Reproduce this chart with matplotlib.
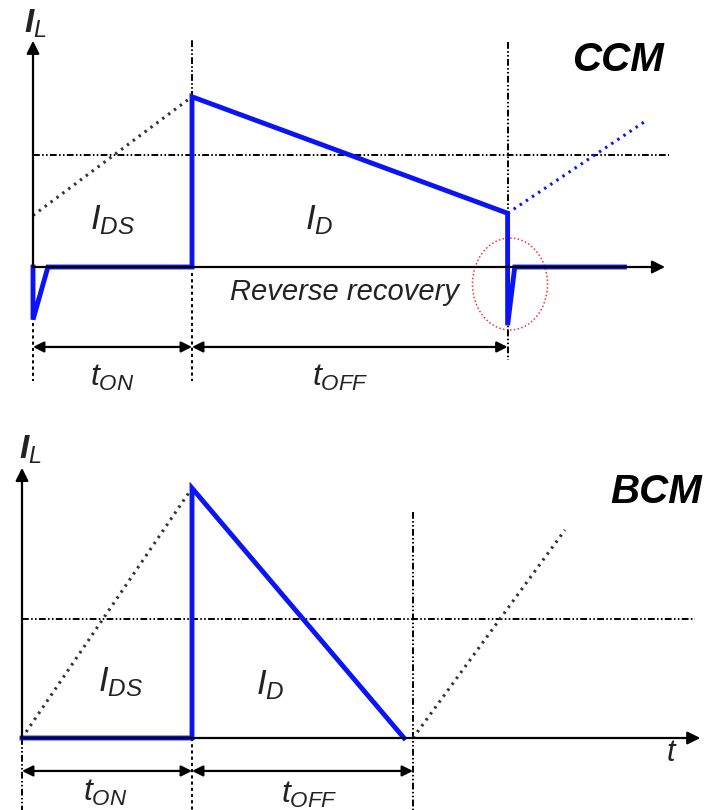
import matplotlib
matplotlib.use("Agg")
import matplotlib.pyplot as plt
from matplotlib.patches import Ellipse

plt.rcParams['font.family'] = ['Liberation Sans', 'DejaVu Sans']
plt.rcParams['mathtext.fontset'] = 'custom'
plt.rcParams['mathtext.rm'] = 'Liberation Sans'
plt.rcParams['mathtext.it'] = 'Liberation Sans:italic'
plt.rcParams['mathtext.bf'] = 'Liberation Sans:bold:italic'

# ---------------- data: CCM (time in units of t_ON, current in units of average) -------------
ccm_t_on = 1.0
ccm_t_off = 1.985
ccm_wave_t = [0.0, 0.0, 0.094, 1.0, 1.0, 2.985, 2.985, 3.03, 3.72]
ccm_wave_i = [0.0, -0.47, 0.0, 0.0, 1.52, 0.48, -0.52, 0.0, 0.0]
ccm_ramp_t = [0.0, 1.0]
ccm_ramp_i = [0.46, 1.52]
ccm_next_t = [2.985, 3.86]
ccm_next_i = [0.48, 1.31]
ccm_avg = 1.0

# ---------------- data: BCM ----------------
bcm_t_on = 1.0
bcm_t_off = 1.3
bcm_wave_t = [0.0, 1.0, 1.0, 2.247]
bcm_wave_i = [0.0, 0.0, 2.1, 0.0]
bcm_ramp_t = [0.0, 1.0]
bcm_ramp_i = [0.0, 2.1]
bcm_next_t = [2.3, 3.194]
bcm_next_i = [0.0, 1.748]
bcm_avg = 1.0

BLUE = '#0a14f5'
DASHDOT = (0, (3.5, 1.2, 0.8, 1.2, 0.8, 1.2))
DOTTED = (0, (0.8, 1.6))
DASHED = (0, (1.6, 1.6))

fig = plt.figure(figsize=(7.06, 8.10), dpi=100)
ax1 = fig.add_axes([0, 0.5, 1, 0.5])
ax2 = fig.add_axes([0, 0, 1, 0.5])
for ax in (ax1, ax2):
    ax.set_axis_off()

# scale: top: 159 px per t unit, origin x=33; 112 px per I unit, origin y=267
ax1.set_xlim(-33 / 159, (706 - 33) / 159)
ax1.set_ylim((267 - 405) / 112, 267 / 112)
# bottom: 170 px per t unit, origin x=22; 119 px per I unit, origin y=738
ax2.set_xlim(-22 / 170, (706 - 22) / 170)
ax2.set_ylim((738 - 810) / 119, (738 - 405) / 119)

def arrow(ax, x0, y0, x1, y1, style='-|>', lw=1.5, ms=16):
    ax.annotate('', xy=(x1, y1), xytext=(x0, y0),
                arrowprops=dict(arrowstyle=style, color='black', lw=lw,
                                mutation_scale=ms, shrinkA=0, shrinkB=0),
                annotation_clip=False)

math_kw = dict(color='#222222', ha='center', va='center')
GRID_LW = 1.4
DOT_LW = 2.2
WAVE_LW = 3.5

# ================= CCM =================
a = ax1
T1 = ccm_t_on
T2 = ccm_t_on + ccm_t_off
arrow(a, 0, 0, 0, 2.02, lw=1.6, ms=19)
arrow(a, 0, 0, 3.975, 0, lw=1.6, ms=19)
a.plot([0, 4.0], [ccm_avg, ccm_avg], color='black', lw=GRID_LW, ls=DASHDOT)
a.plot([T1, T1], [0, 2.03], color='black', lw=GRID_LW, ls=DASHDOT)
a.plot([T1, T1], [-0.05, -1.02], color='black', lw=GRID_LW, ls=DASHED)
a.plot([0, 0], [-0.5, -1.02], color='black', lw=GRID_LW, ls=DASHED)
a.plot([T2, T2], [2.01, -0.83], color='black', lw=GRID_LW, ls=DASHDOT)
a.plot(ccm_ramp_t, ccm_ramp_i, color='#333333', lw=DOT_LW, ls=DOTTED)
a.plot(ccm_next_t, ccm_next_i, color=BLUE, lw=DOT_LW, ls=DOTTED)
a.plot(ccm_wave_t, ccm_wave_i, color=BLUE, lw=WAVE_LW, solid_joinstyle='miter')
a.add_patch(Ellipse((T2 + 0.015, -0.152), 0.472, 0.821, fill=False,
                    edgecolor='#ff3030', lw=1.1, ls=(0, (1, 1.5))))
arrow(a, 0, -0.714, T1, -0.714, style='<|-|>', lw=1.6, ms=16)
arrow(a, T1, -0.714, T2, -0.714, style='<|-|>', lw=1.6, ms=16)
a.text(0.013, 2.17, r'$\mathbf{I}_L$', fontsize=24, **math_kw)
a.text(0.5, 0.42, r'$I_{DS}$', fontsize=25, **math_kw)
a.text(1.8, 0.42, r'$I_D$', fontsize=25, **math_kw)
a.text(1.96, -0.22, 'Reverse recovery', fontsize=21, style='italic',
       color='#222222', ha='center', va='center')
a.text(0.5, -0.99, r'$t_{ON}$', fontsize=23, **math_kw)
a.text(1.93, -0.99, r'$t_{OFF}$', fontsize=23, **math_kw)
a.text(3.39, 1.85, 'CCM', fontsize=29, style='italic', weight='bold',
       color='black', ha='left', va='center')

# ================= BCM =================
b = ax2
U1 = bcm_t_on
U2 = bcm_t_on + bcm_t_off
arrow(b, 0, 0, 0, 2.27, lw=1.6, ms=19)
arrow(b, 0, 0, 3.99, 0, lw=1.6, ms=19)
b.plot([0, 3.96], [bcm_avg, bcm_avg], color='black', lw=GRID_LW, ls=DASHDOT)
b.plot([U2, U2], [1.9, -0.62], color='black', lw=GRID_LW, ls=DASHDOT)
b.plot([U1, U1], [0, -0.62], color='black', lw=GRID_LW, ls=DASHED)
b.plot([0, 0], [0, -0.62], color='black', lw=GRID_LW, ls=DASHDOT)
b.plot(bcm_ramp_t, bcm_ramp_i, color='#333333', lw=DOT_LW, ls=DOTTED)
b.plot(bcm_next_t, bcm_next_i, color='#333333', lw=DOT_LW, ls=DOTTED)
b.plot(bcm_wave_t, bcm_wave_i, color=BLUE, lw=WAVE_LW, solid_joinstyle='miter')
arrow(b, 0, -0.277, U1, -0.277, style='<|-|>', lw=1.6, ms=16)
arrow(b, U1, -0.277, U2, -0.277, style='<|-|>', lw=1.6, ms=16)
b.text(0.05, 2.42, r'$\mathbf{I}_L$', fontsize=24, **math_kw)
b.text(0.58, 0.47, r'$I_{DS}$', fontsize=25, **math_kw)
b.text(1.46, 0.445, r'$I_D$', fontsize=25, **math_kw)
b.text(0.49, -0.46, r'$t_{ON}$', fontsize=23, **math_kw)
b.text(1.69, -0.48, r'$t_{OFF}$', fontsize=23, **math_kw)
b.text(3.82, -0.13, r'$t$', fontsize=22, **math_kw)
b.text(3.46, 2.07, 'BCM', fontsize=29, style='italic', weight='bold',
       color='black', ha='left', va='center')

fig.savefig('out.png', dpi=100, facecolor='white')
